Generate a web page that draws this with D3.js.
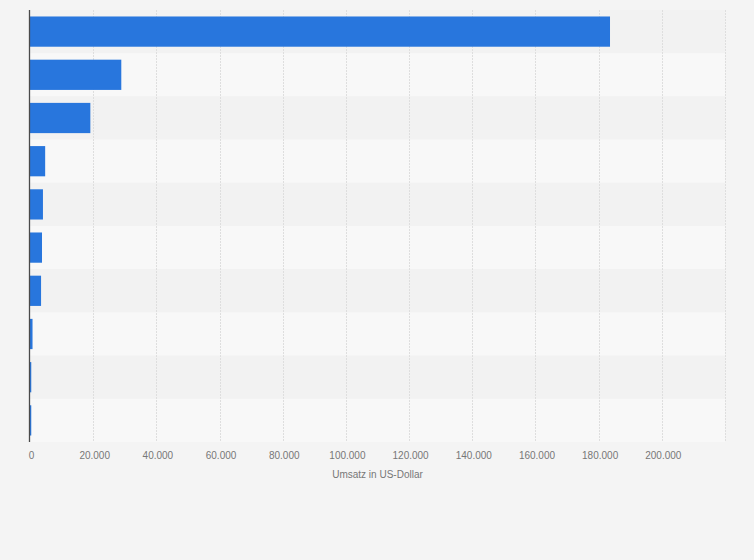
<!DOCTYPE html>
<html>
<head>
<meta charset="utf-8">
<script src="https://cdn.jsdelivr.net/npm/d3@7/dist/d3.min.js"></script>
<style>
  html, body { margin: 0; padding: 0; background: #f4f4f4; }
  svg { display: block; }
</style>
</head>
<body>
<svg id="chart" width="754" height="560"></svg>
<script>
// Data (category labels are not shown there)
const categories = ["1", "2", "3", "4", "5", "6", "7", "8", "9", "10"];
const values = [183600, 28900, 19100, 4800, 4100, 3800, 3500, 800, 400, 400];
const tickValues = [0, 20000, 40000, 60000, 80000, 100000, 120000, 140000, 160000, 180000, 200000];
const gridValues = [20000, 40000, 60000, 80000, 100000, 120000, 140000, 160000, 180000, 200000, 220000];
const axisTitle = "Umsatz in US-Dollar";

const svg = d3.select("#chart");
const W = 754, H = 560;
const margin = { top: 10, right: 29, bottom: 118, left: 30 };
const iw = W - margin.left - margin.right;
const ih = H - margin.top - margin.bottom;

svg.append("rect").attr("width", W).attr("height", H).attr("fill", "#f4f4f4");

const g = svg.append("g").attr("transform", `translate(${margin.left},${margin.top})`);

const x = d3.scaleLinear().domain([0, 220000]).range([0, iw]);
const y = d3.scaleBand().domain(categories).range([0, ih]).paddingInner(0.3).paddingOuter(0.15);
const rowBand = d3.scaleBand().domain(categories).range([0, ih]);

// alternating row backgrounds
g.selectAll("rect.row").data(categories).join("rect")
  .attr("class", "row")
  .attr("x", 0)
  .attr("y", d => rowBand(d))
  .attr("width", iw)
  .attr("height", rowBand.bandwidth())
  .attr("fill", (d, i) => i % 2 === 0 ? "#f2f2f2" : "#f8f8f8");

// gridlines
g.selectAll("line.grid").data(gridValues).join("line")
  .attr("class", "grid")
  .attr("x1", d => Math.round(x(d)) + 0.5)
  .attr("x2", d => Math.round(x(d)) + 0.5)
  .attr("y1", 0)
  .attr("y2", ih)
  .attr("stroke", "#dedede")
  .attr("stroke-width", 1)
  .attr("stroke-dasharray", "2,1");

// bars
g.selectAll("rect.bar").data(values).join("rect")
  .attr("class", "bar")
  .attr("x", 0)
  .attr("y", (d, i) => y(categories[i]))
  .attr("width", d => x(d))
  .attr("height", y.bandwidth())
  .attr("fill", "#2876dd");

// y axis line
g.append("line")
  .attr("x1", -0.5).attr("x2", -0.5)
  .attr("y1", 0).attr("y2", ih)
  .attr("stroke", "#4a4a4a")
  .attr("stroke-width", 1.3);

// x axis (labels only)
const fmt = d3.formatLocale({ decimal: ",", thousands: ".", grouping: [3], currency: ["", ""] }).format(",d");
const xAxis = g.append("g")
  .attr("transform", `translate(0,${ih})`)
  .call(d3.axisBottom(x).tickValues(tickValues).tickFormat(fmt).tickSize(0).tickPadding(10));
xAxis.select(".domain").remove();
xAxis.selectAll("text")
  .attr("dx", "1")
  .attr("fill", "#777")
  .style("font-family", "'Liberation Sans', Arial, sans-serif")
  .style("font-size", "10px");

// axis title
g.append("text")
  .attr("x", iw / 2)
  .attr("y", ih + 36)
  .attr("text-anchor", "middle")
  .attr("fill", "#777")
  .style("font-family", "'Liberation Sans', Arial, sans-serif")
  .style("font-size", "10px")
  .text(axisTitle);
</script>
</body>
</html>
